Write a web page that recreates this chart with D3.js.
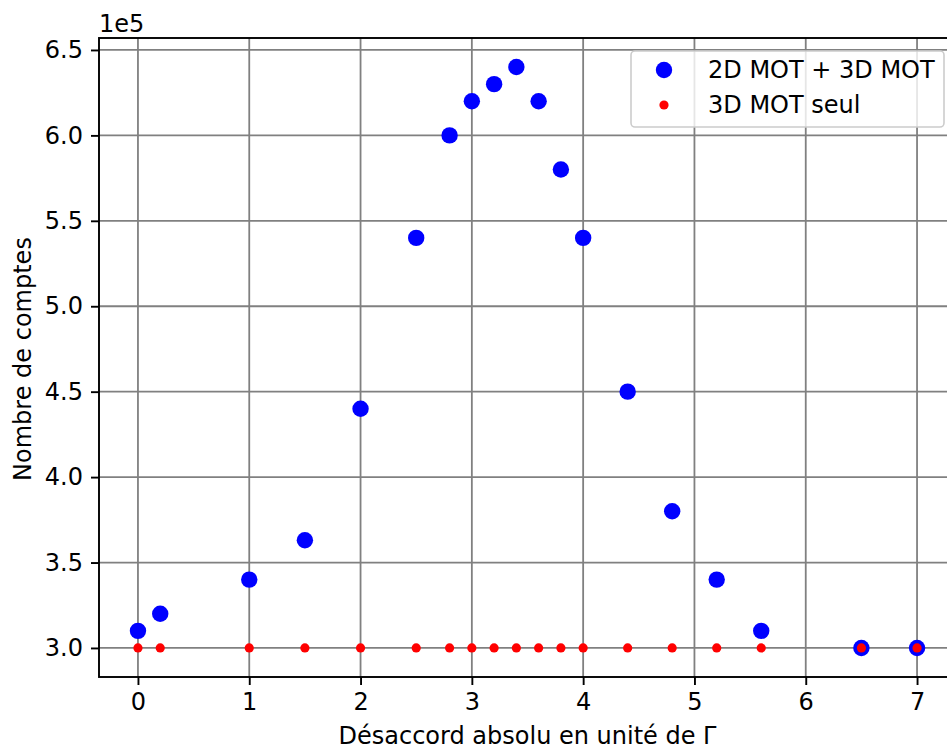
<!DOCTYPE html>
<html>
<head>
<meta charset="utf-8">
<script src="https://cdn.jsdelivr.net/npm/d3@7"></script>
<style>
  body { margin: 0; background: #fff; }
  text { font-family: "DejaVu Sans", sans-serif; fill: #000; }
</style>
</head>
<body>
<div id="chart"></div>
<script>
// detuning in units of Gamma
const detuning = [0, 0.2, 1, 1.5, 2, 2.5, 2.8, 3.0, 3.2, 3.4, 3.6, 3.8, 4.0, 4.4, 4.8, 5.2, 5.6, 6.5, 7.0];
// counts with 2D MOT + 3D MOT
const countsBoth = [310000, 320000, 340000, 363000, 440000, 540000, 600000, 620000, 630000, 640000, 620000, 580000, 540000, 450000, 380000, 340000, 310000, 300000, 300000];
// counts with 3D MOT alone
const countsAlone = [300000, 300000, 300000, 300000, 300000, 300000, 300000, 300000, 300000, 300000, 300000, 300000, 300000, 300000, 300000, 300000, 300000, 300000, 300000];
const xTicks = [0, 1, 2, 3, 4, 5, 6, 7];
const yTicks = [300000, 350000, 400000, 450000, 500000, 550000, 600000, 650000];
const seriesNames = ["2D MOT + 3D MOT", "3D MOT seul"];

const W = 947, H = 749;
const mL = 99, mT = 38, mR = 956, mB = 677;
const fs = '24px';

const svg = d3.select('#chart').append('svg')
  .attr('width', W).attr('height', H);

const x = d3.scaleLinear().domain([-0.35, 7.35]).range([mL, mR]);
const y = d3.scaleLinear().domain([283000, 657000]).range([mB, mT]);

// grid
const grid = svg.append('g');
grid.selectAll('.gx').data(xTicks).join('line')
  .attr('x1', d => x(d)).attr('x2', d => x(d))
  .attr('y1', mT).attr('y2', mB)
  .attr('stroke', '#808080').attr('stroke-width', 1.8);
grid.selectAll('.gy').data(yTicks).join('line')
  .attr('x1', mL).attr('x2', mR)
  .attr('y1', d => y(d)).attr('y2', d => y(d))
  .attr('stroke', '#808080').attr('stroke-width', 1.8);

// axes
const xAxis = d3.axisBottom(x).tickValues(xTicks).tickFormat(d3.format('d'))
  .tickSize(8).tickPadding(8);
const yAxis = d3.axisLeft(y).tickValues(yTicks).tickFormat(d => (d / 1e5).toFixed(1))
  .tickSize(8).tickPadding(8);

const gx = svg.append('g').attr('transform', `translate(0,${mB})`).call(xAxis);
const gy = svg.append('g').attr('transform', `translate(${mL},0)`).call(yAxis);
[gx, gy].forEach(g => {
  g.select('.domain').remove();
  g.selectAll('.tick line').attr('stroke', '#000').attr('stroke-width', 1.9);
  g.selectAll('.tick text').style('font-size', fs).attr('fill', '#000');
});

// spines
svg.append('rect')
  .attr('x', mL).attr('y', mT)
  .attr('width', mR - mL).attr('height', mB - mT)
  .attr('fill', 'none').attr('stroke', '#000').attr('stroke-width', 1.9);

// points
svg.append('g').selectAll('circle').data(detuning).join('circle')
  .attr('cx', d => x(d)).attr('cy', (d, i) => y(countsBoth[i]))
  .attr('r', 8.2).attr('fill', '#0000ff');
svg.append('g').selectAll('circle').data(detuning).join('circle')
  .attr('cx', d => x(d)).attr('cy', (d, i) => y(countsAlone[i]))
  .attr('r', 4.6).attr('fill', '#ff0000');

// offset text
svg.append('text').attr('x', 99).attr('y', 32)
  .style('font-size', fs).text('1e5');

// axis labels
svg.append('text')
  .attr('x', (mL + mR) / 2).attr('y', 744)
  .attr('text-anchor', 'middle').style('font-size', fs)
  .text('Désaccord absolu en unité de Γ');
svg.append('text')
  .attr('transform', `translate(31,359) rotate(-90)`)
  .attr('text-anchor', 'middle').style('font-size', fs)
  .text('Nombre de comptes');

// legend
const lg = svg.append('g');
lg.append('rect')
  .attr('x', 631).attr('y', 51).attr('width', 313).attr('height', 76)
  .attr('rx', 4).attr('fill', 'rgba(255,255,255,0.8)')
  .attr('stroke', '#cccccc').attr('stroke-width', 1.6);
const legendColors = ['#0000ff', '#ff0000'];
const legendR = [8.2, 4.6];
seriesNames.forEach((name, i) => {
  const cy = 70 + i * 35;
  lg.append('circle').attr('cx', 664).attr('cy', cy).attr('r', legendR[i]).attr('fill', legendColors[i]);
  lg.append('text').attr('x', 708).attr('y', cy).attr('dy', '0.35em')
    .style('font-size', fs).text(name);
});
</script>
</body>
</html>
